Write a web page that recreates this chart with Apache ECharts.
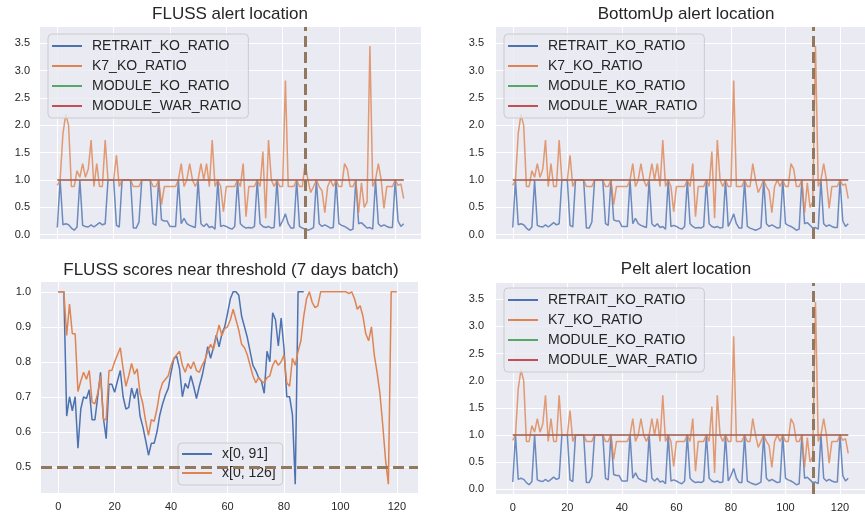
<!DOCTYPE html>
<html><head><meta charset="utf-8">
<script src="https://cdn.jsdelivr.net/npm/echarts@6/dist/echarts.min.js"></script>
<style>html,body{margin:0;padding:0;background:#fff}#c{width:865px;height:521px}</style>
</head><body><div id="c"></div>
<script>
// ---- data ----
const seriesNames = ['RETRAIT_KO_RATIO', 'K7_KO_RATIO', 'MODULE_KO_RATIO', 'MODULE_WAR_RATIO'];
const retraitKo = [
  0.13, 1.0, 0.18, 0.2, 0.18, 0.12, 0.08, 0.14, 1.0, 0.17,
  0.15, 0.14, 0.18, 0.14, 0.18, 0.22, 0.18, 0.2, 1.0, 1.0,
  1.0, 0.17, 0.14, 1.0, 1.0, 1.0, 1.0, 0.12, 0.12, 0.23,
  1.0, 1.0, 1.0, 1.0, 0.2, 0.17, 1.0, 0.27, 0.25, 0.25,
  0.15, 0.15, 0.15, 1.0, 0.2, 0.3, 0.2, 0.17, 0.15, 0.13,
  1.0, 0.2, 0.15, 0.2, 0.13, 0.15, 0.1, 1.0, 0.15, 0.17,
  0.15, 0.12, 0.1, 0.15, 1.0, 0.2, 0.15, 0.12, 0.13, 0.12,
  0.15, 1.0, 0.2, 0.15, 0.13, 0.15, 0.12, 0.13, 1.0, 0.15,
  0.25, 0.38, 0.2, 0.12, 0.12, 1.0, 0.15, 0.12, 0.1, 0.08,
  0.1, 0.13, 1.0, 0.2, 0.15, 0.18, 0.15, 0.12, 0.13, 1.0,
  0.2, 0.17, 0.15, 0.12, 0.08, 0.1, 1.0, 0.2, 0.22, 0.17,
  0.12, 0.13, 0.1, 1.0, 0.2, 0.15, 0.18, 0.15, 0.13, 0.13,
  1.0, 0.25, 0.15, 0.2
];
const k7Ko = [
  0.9, 1.0, 1.85, 2.2, 2.0, 0.88, 0.88, 1.17, 1.05, 1.3,
  1.05, 1.2, 1.73, 0.88, 1.3, 0.88, 0.88, 1.73, 1.0, 1.0,
  1.0, 1.45, 0.88, 1.0, 1.0, 1.0, 1.0, 0.88, 0.88, 0.88,
  1.0, 1.0, 1.0, 1.0, 0.88, 0.88, 1.0, 0.55, 0.88, 0.88,
  0.88, 0.88, 0.88, 1.0, 1.3, 0.88, 1.0, 1.3, 1.0, 0.88,
  1.0, 1.3, 1.0, 1.3, 0.88, 1.73, 0.88, 1.0, 0.88, 0.42,
  0.88, 0.88, 0.88, 0.88, 1.0, 0.88, 1.3, 0.33, 0.88, 0.88,
  0.88, 1.0, 0.88, 1.52, 0.3, 1.73, 1.0, 0.88, 1.0, 0.88,
  0.88, 2.82, 0.88, 0.88, 0.88, 1.0, 0.88, 0.88, 1.3, 1.0,
  0.77, 0.88, 1.0, 0.88, 0.8, 0.4, 0.88, 1.0, 0.88, 1.0,
  0.88, 0.88, 1.3, 1.2, 0.88, 0.88, 1.0, 0.4, 0.95, 0.5,
  0.6, 3.45, 0.88, 1.0, 1.3, 1.0, 0.48, 0.88, 0.88, 0.88,
  1.0, 0.9, 0.93, 0.66
];
const moduleKo = [
  1,1,1,1,1,1,1,1,1,1, 1,1,1,1,1,1,1,1,1,1, 1,1,1,1,1,1,1,1,1,1,
  1,1,1,1,1,1,1,1,1,1, 1,1,1,1,1,1,1,1,1,1, 1,1,1,1,1,1,1,1,1,1,
  1,1,1,1,1,1,1,1,1,1, 1,1,1,1,1,1,1,1,1,1, 1,1,1,1,1,1,1,1,1,1,
  1,1,1,1,1,1,1,1,1,1, 1,1,1,1,1,1,1,1,1,1, 1,1,1,1,1,1,1,1,1,1,
  1,1,1,1
];
const moduleWar = [
  1,1,1,1,1,1,1,1,1,1, 1,1,1,1,1,1,1,1,1,1, 1,1,1,1,1,1,1,1,1,1,
  1,1,1,1,1,1,1,1,1,1, 1,1,1,1,1,1,1,1,1,1, 1,1,1,1,1,1,1,1,1,1,
  1,1,1,1,1,1,1,1,1,1, 1,1,1,1,1,1,1,1,1,1, 1,1,1,1,1,1,1,1,1,1,
  1,1,1,1,1,1,1,1,1,1, 1,1,1,1,1,1,1,1,1,1, 1,1,1,1,1,1,1,1,1,1,
  1,1,1,1
];
// FLUSS scores
const scoreNames = ['x[0, 91]', 'x[0, 126]'];
const score91 = [
  1.0, 1.0, 1.0, 0.645, 0.7, 0.66, 0.7, 0.553, 0.665, 0.7,
  0.695, 0.72, 0.634, 0.634, 0.7, 0.77, 0.64, 0.58, 0.736, 0.736,
  0.713, 0.745, 0.775, 0.7, 0.665, 0.67, 0.725, 0.695, 0.724, 0.645,
  0.614, 0.575, 0.533, 0.567, 0.567, 0.6, 0.648, 0.68, 0.705, 0.724,
  0.77, 0.81, 0.815, 0.78, 0.7, 0.738, 0.724, 0.76, 0.73, 0.695,
  0.73, 0.76, 0.8, 0.843, 0.81, 0.84, 0.876, 0.843, 0.88, 0.9,
  0.938, 0.98, 1.0, 1.0, 0.99, 0.93, 0.9, 0.87, 0.83, 0.79,
  0.775, 0.755, 0.745, 0.71, 0.83, 0.8, 0.94, 0.92, 0.845, 0.925,
  0.84, 0.7, 0.7, 0.65, 0.45, 1.0, 1.0, 1.0
];
const score126 = [
  1.0, 1.0, 1.0, 0.875, 0.965, 0.88, 0.88, 0.715, 0.745, 0.77,
  0.75, 0.775, 0.685, 0.68, 0.71, 0.76, 0.635, 0.635, 0.775, 0.775,
  0.8, 0.82, 0.84, 0.78, 0.73, 0.76, 0.795, 0.765, 0.78, 0.71,
  0.68, 0.63, 0.59, 0.635, 0.63, 0.665, 0.715, 0.74, 0.75, 0.76,
  0.79, 0.81, 0.82, 0.83, 0.79, 0.77, 0.795, 0.78, 0.8, 0.775,
  0.77, 0.79, 0.805, 0.83, 0.85, 0.835, 0.87, 0.905, 0.875, 0.895,
  0.9, 0.92, 0.95, 0.92, 0.89, 0.85, 0.84, 0.82, 0.79, 0.76,
  0.74, 0.755, 0.745, 0.74, 0.755, 0.76, 0.79, 0.805, 0.79, 0.8,
  0.82, 0.74, 0.73, 0.81, 0.79, 0.83, 0.86, 0.93, 0.98, 1.0,
  0.97, 0.955, 0.96, 1.0, 1.0, 1.0, 1.0, 1.0, 1.0, 1.0,
  1.0, 1.0, 1.0, 0.995, 1.0, 0.98, 0.95, 0.96, 0.93, 0.88,
  0.86, 0.9, 0.82, 0.77, 0.71, 0.62, 0.52, 0.45, 1.0, 1.0,
  1.0
];
const flussAlert = 88;
const bottomUpAlert = 110;
const peltAlert = 110;
const threshold = 0.5;
const xTicks = [0, 20, 40, 60, 80, 100, 120];
const yTicksRatio = [0, 0.5, 1.0, 1.5, 2.0, 2.5, 3.0, 3.5];
const yTicksScore = [0.5, 0.6, 0.7, 0.8, 0.9, 1.0];
const titles = ['FLUSS alert location', 'BottomUp alert location', 'FLUSS scores near threshold (7 days batch)', 'Pelt alert location'];

// ---- chart ----
const FONT = '"Liberation Sans", Arial, sans-serif';
const TXT = '#262626';
const C = { blue: '#4C72B0', orange: '#DD8452', green: '#55A868', red: '#C44E52', brown: '#937860' };
const pairs = arr => arr.map((v, i) => [i, v]);

function xAx(gi, min, max, showLabel) {
  return {
    type: 'value', gridIndex: gi, min: min, max: max,
    axisLine: { show: false },
    axisTick: { show: false, customValues: xTicks },
    axisLabel: { show: showLabel, customValues: xTicks, color: TXT, fontSize: 11, fontFamily: FONT, margin: 8 },
    splitLine: { show: true, lineStyle: { color: '#ffffff', width: 1 } }
  };
}
function yAx(gi, min, max, ticks, margin) {
  return {
    type: 'value', gridIndex: gi, min: min, max: max,
    axisLine: { show: false },
    axisTick: { show: false, customValues: ticks },
    axisLabel: { customValues: ticks, color: TXT, fontSize: 11, fontFamily: FONT, margin: margin,
      formatter: v => Number(v).toFixed(1) },
    splitLine: { show: true, lineStyle: { color: '#ffffff', width: 1 } }
  };
}
function legendAt(names, left, top, pad, gap) {
  return {
    data: names, orient: 'vertical', left: left, top: top,
    icon: 'rect', itemWidth: 30, itemHeight: 2, itemGap: gap, padding: pad,
    backgroundColor: 'rgba(234,234,242,0.8)', borderColor: '#cccccc', borderWidth: 1, borderRadius: 4,
    selectedMode: false,
    textStyle: { fontSize: 14, color: TXT, fontFamily: FONT, lineHeight: 14, padding: [0, 0, 0, 5] }
  };
}
function markV(x) {
  return {
    silent: true, symbol: 'none', label: { show: false },
    lineStyle: { color: C.brown, width: 3, type: [11, 5], opacity: 1 },
    emphasis: { disabled: true },
    data: [{ xAxis: x }]
  };
}
function ratioSeries(gi, alert) {
  const base = (name, data, color) => ({
    name: name, type: 'line', xAxisIndex: gi, yAxisIndex: gi, data: pairs(data),
    symbol: 'none', silent: true,
    lineStyle: { width: 1.5, color: color, opacity: 0.8 }, itemStyle: { color: color }
  });
  const s = [
    base(seriesNames[0], retraitKo, C.blue),
    base(seriesNames[1], k7Ko, C.orange),
    base(seriesNames[2], moduleKo, C.green),
    base(seriesNames[3], moduleWar, C.red)
  ];
  s[3].markLine = markV(alert);
  return s;
}
function titleAt(text, x, y) {
  return { text: text, left: x, top: y, textAlign: 'center', padding: 0,
    textStyle: { fontSize: 17, fontWeight: 'normal', color: TXT, fontFamily: FONT } };
}

const chart = echarts.init(document.getElementById('c'), null, { renderer: 'canvas' });
const scoreSeries = [
  { name: scoreNames[0], type: 'line', xAxisIndex: 2, yAxisIndex: 2, data: pairs(score91), symbol: 'none', silent: true,
    lineStyle: { width: 1.5, color: C.blue }, itemStyle: { color: C.blue } },
  { name: scoreNames[1], type: 'line', xAxisIndex: 2, yAxisIndex: 2, data: pairs(score126), symbol: 'none', silent: true,
    lineStyle: { width: 1.5, color: C.orange }, itemStyle: { color: C.orange },
    markLine: { silent: true, symbol: 'none', label: { show: false },
      lineStyle: { color: C.brown, width: 3, type: [11, 5], opacity: 1 },
      emphasis: { disabled: true }, data: [{ yAxis: threshold }] } }
];
chart.setOption({
  animation: false,
  backgroundColor: '#ffffff',
  textStyle: { fontFamily: FONT },
  title: [
    titleAt(titles[0], 230, 6),
    titleAt(titles[1], 686, 6),
    titleAt(titles[2], 231, 262),
    titleAt(titles[3], 686, 261)
  ],
  grid: [
    { left: 40, top: 27, width: 381, height: 212, show: true, backgroundColor: '#EAEAF2', borderWidth: 0 },
    { left: 496, top: 27, width: 380, height: 212, show: true, backgroundColor: '#EAEAF2', borderWidth: 0 },
    { left: 41, top: 282, width: 377, height: 211, show: true, backgroundColor: '#EAEAF2', borderWidth: 0 },
    { left: 496, top: 283, width: 380, height: 211, show: true, backgroundColor: '#EAEAF2', borderWidth: 0 }
  ],
  xAxis: [
    xAx(0, -6.15, 129.15, false),
    xAx(1, -6.15, 129.15, false),
    xAx(2, -6.1, 127.5, true),
    xAx(3, -6.15, 129.15, true)
  ],
  yAxis: [
    yAx(0, -0.08, 3.8, yTicksRatio, 10),
    yAx(1, -0.08, 3.8, yTicksRatio, 12),
    yAx(2, 0.425, 1.028, yTicksScore, 10),
    yAx(3, -0.09, 3.8, yTicksRatio, 12)
  ],
  legend: [
    legendAt(seriesNames, 48, 34, [5, 7, 5, 4], 6),
    legendAt(seriesNames, 504, 34, [5, 7, 5, 4], 6),
    legendAt(scoreNames, 178, 443, [4, 7, 5, 4], 5),
    legendAt(seriesNames, 504, 288, [5, 7, 5, 4], 6)
  ],
  series: [].concat(
    ratioSeries(0, flussAlert),
    ratioSeries(1, bottomUpAlert),
    scoreSeries,
    ratioSeries(3, peltAlert)
  )
});
</script>
</body></html>
